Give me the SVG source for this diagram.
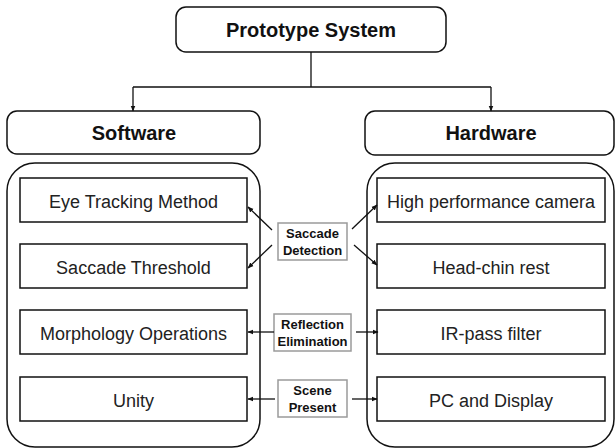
<svg xmlns="http://www.w3.org/2000/svg" width="615" height="448" viewBox="0 0 615 448">
<style>
.rb{fill:#fff;stroke:#111;stroke-width:1.5}
.ib{fill:#fff;stroke:#111;stroke-width:1.5}
.lb{fill:#fff;stroke:#9a9a9a;stroke-width:1.5}
.ht{font-family:"Liberation Sans",Arial,sans-serif;font-weight:bold;font-size:20px;fill:#111;text-anchor:middle}
.it{font-family:"Liberation Sans",Arial,sans-serif;font-size:18px;fill:#222;text-anchor:middle}
.lt{font-family:"Liberation Sans",Arial,sans-serif;font-weight:bold;font-size:13px;fill:#111;text-anchor:middle}
.c{fill:none;stroke:#111;stroke-width:1.3}
</style>
<defs>
<marker id="ah" viewBox="0 0 10 10" refX="9" refY="5" markerWidth="6" markerHeight="6" orient="auto" markerUnits="userSpaceOnUse">
<path d="M0,1 L10,5 L0,9 z" fill="#111"/>
</marker>
</defs>
<g id="prototype"><rect class="rb" x="176" y="7" width="270" height="45" rx="10"/><text class="ht" x="311" y="37">Prototype System</text></g>
<g id="software"><rect class="rb" x="7" y="111" width="253" height="43" rx="10"/><text class="ht" x="134" y="140">Software</text></g>
<g id="hardware"><rect class="rb" x="365" y="111" width="249" height="44" rx="10"/><text class="ht" x="491" y="140">Hardware</text></g>
<g id="software-group"><rect class="rb" x="7" y="163" width="253" height="284" rx="28"/></g>
<g id="hardware-group"><rect class="rb" x="367" y="163" width="247" height="284" rx="28"/></g>
<g id="eye-tracking"><rect class="ib" x="20" y="178" width="227" height="44"/><text class="it" x="133.5" y="208">Eye Tracking Method</text></g>
<g id="saccade-threshold"><rect class="ib" x="20" y="244" width="227" height="44"/><text class="it" x="133.5" y="274">Saccade Threshold</text></g>
<g id="morphology"><rect class="ib" x="20" y="310" width="227" height="44"/><text class="it" x="133.5" y="340">Morphology Operations</text></g>
<g id="unity"><rect class="ib" x="20" y="377" width="227" height="44"/><text class="it" x="133.5" y="407">Unity</text></g>
<g id="camera"><rect class="ib" x="377" y="178" width="228" height="44"/><text class="it" x="491" y="208">High performance camera</text></g>
<g id="head-chin"><rect class="ib" x="377" y="244" width="228" height="44"/><text class="it" x="491" y="274">Head-chin rest</text></g>
<g id="ir-filter"><rect class="ib" x="377" y="310" width="228" height="44"/><text class="it" x="491" y="340">IR-pass filter</text></g>
<g id="pc-display"><rect class="ib" x="377" y="377" width="228" height="44"/><text class="it" x="491" y="407">PC and Display</text></g>
<g id="saccade-detection"><rect class="lb" x="278" y="223" width="69" height="37"/><text class="lt" x="312.5" y="238">Saccade</text><text class="lt" x="312.5" y="255">Detection</text></g>
<g id="reflection-elimination"><rect class="lb" x="274" y="314" width="77" height="37"/><text class="lt" x="312.5" y="329">Reflection</text><text class="lt" x="312.5" y="346">Elimination</text></g>
<g id="scene-present"><rect class="lb" x="278" y="380" width="69" height="37"/><text class="lt" x="312.5" y="395">Scene</text><text class="lt" x="312.5" y="412">Present</text></g>
<g id="connectors">
<path class="c" d="M311,52 V87 M133,87 H491"/>
<path class="c" d="M133,87 V111" marker-end="url(#ah)"/>
<path class="c" d="M491,87 V111" marker-end="url(#ah)"/>
<path class="c" d="M272,230 L248,207" marker-end="url(#ah)"/>
<path class="c" d="M272,245 L248,268" marker-end="url(#ah)"/>
<path class="c" d="M352,229 L377,205" marker-end="url(#ah)"/>
<path class="c" d="M354,245 L377,265" marker-end="url(#ah)"/>
<path class="c" d="M274,332 H248" marker-end="url(#ah)"/>
<path class="c" d="M356,332 H378" marker-end="url(#ah)"/>
<path class="c" d="M275,399 H248" marker-end="url(#ah)"/>
<path class="c" d="M352,399 H377" marker-end="url(#ah)"/>
</g>
</svg>
